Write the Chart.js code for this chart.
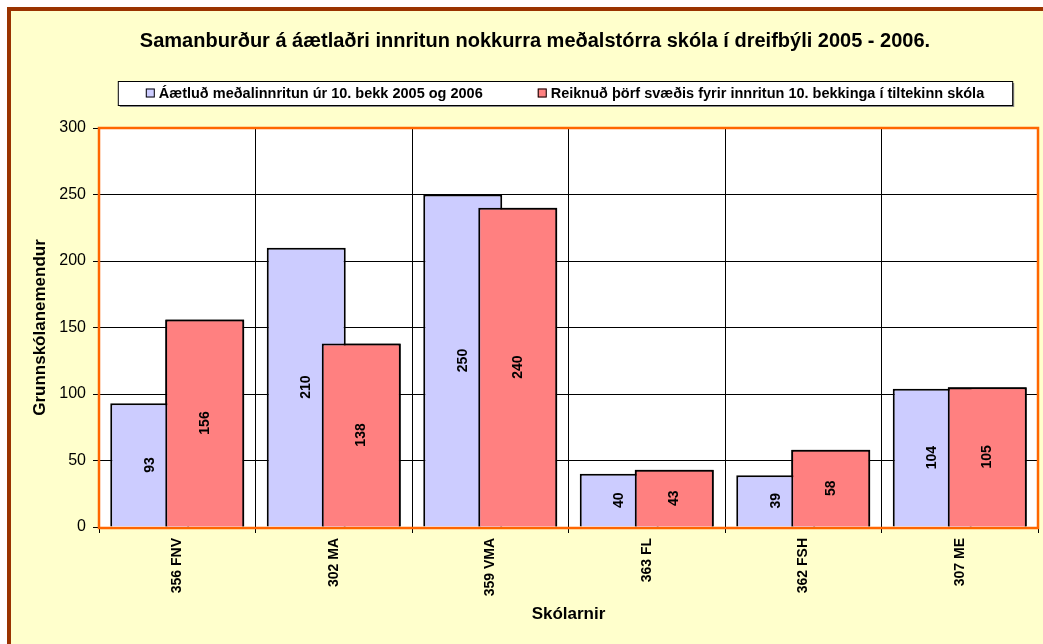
<!DOCTYPE html>
<html>
<head>
<meta charset="utf-8">
<script src="https://cdn.jsdelivr.net/npm/chart.js@4/dist/chart.umd.min.js"></script>
<style>
  html, body { margin: 0; padding: 0; background: #ffffff; overflow: hidden; }
  #frame { position: absolute; left: 7px; top: 7px; width: 1100px; height: 700px;
           background: #FFFFCC; border-left: 4px solid #993300; border-top: 4px solid #993300; }
  #wrap { position: absolute; left: 0; top: 0; width: 1043px; height: 644px; }
</style>
</head>
<body>
<div id="frame"></div>
<div id="wrap"><canvas id="c" width="1043" height="644"></canvas></div>
<script>
// ---- data ----
const chartTitle = "Samanburður á áætlaðri innritun nokkurra meðalstórra skóla í dreifbýli 2005 - 2006.";
const categories = ["356 FNV", "302 MA", "359 VMA", "363 FL", "362 FSH", "307 ME"];
const seriesNames = ["Áætluð meðalinnritun úr 10. bekk 2005 og 2006",
                     "Reiknuð þörf svæðis fyrir innritun 10. bekkinga í tiltekinn skóla"];
const estimatedIntake = [93, 210, 250, 40, 39, 104];
const calculatedNeed = [156, 138, 240, 43, 58, 105];
const yTitle = "Grunnskólanemendur";
const xTitle = "Skólarnir";
const yTicks = [0, 50, 100, 150, 200, 250, 300];

const FONT = '"Liberation Sans", Arial, sans-serif';

const framePlugin = {
  id: 'framePlugin',
  beforeDraw(chart) {
    const {ctx, chartArea: a} = chart;
    ctx.save();
    ctx.fillStyle = '#ffffff';
    ctx.fillRect(a.left, a.top, a.right - a.left, a.bottom - a.top);
    ctx.restore();
  },
  beforeDatasetsDraw(chart) {
    const {ctx, chartArea: a} = chart;
    ctx.save();
    ctx.strokeStyle = '#FF6600';
    ctx.lineWidth = 2.5;
    ctx.strokeRect(a.left, a.top, a.right - a.left, a.bottom - a.top + 1);
    ctx.restore();
  },
  afterDatasetsDraw(chart) {
    const ctx = chart.ctx;
    // red series drawn over the blue one (Excel overlap)
    chart.getDatasetMeta(1).controller.draw();
    // value labels
    ctx.save();
    ctx.font = 'bold 14px ' + FONT;
    ctx.fillStyle = '#000';
    ctx.textAlign = 'center';
    ctx.textBaseline = 'middle';
    chart.data.datasets.forEach((ds, di) => {
      const meta = chart.getDatasetMeta(di);
      meta.data.forEach((bar, i) => {
        const p = bar.getProps(['x', 'y', 'base'], true);
        ctx.save();
        ctx.translate(p.x, (p.y + p.base) / 2);
        ctx.rotate(-Math.PI / 2);
        ctx.fillText(String(ds.data[i]), 0, 0);
        ctx.restore();
      });
    });
    ctx.restore();
  },
  afterDraw(chart) {
    const ctx = chart.ctx;
    const o = chart.options.plugins.framePlugin;
    ctx.save();
    // title
    ctx.font = 'bold 20px ' + FONT;
    ctx.fillStyle = '#000';
    ctx.textAlign = 'center';
    ctx.textBaseline = 'middle';
    ctx.fillText(chartTitle, o.titleX, o.titleY);
    // legend
    ctx.font = 'bold 14.5px ' + FONT;
    const sq = 9, gap = 4, between = 55, padX = 28;
    const widths = chart.data.datasets.map(d => sq + gap + ctx.measureText(d.label).width);
    const total = widths.reduce((s, w) => s + w, 0) + between * (widths.length - 1);
    let x = o.legendCenterX - total / 2;
    const bx = x - padX, bw = total + 2 * padX;
    const by = o.legendTop, bh = o.legendHeight;
    ctx.fillStyle = '#888';
    ctx.fillRect(bx + 2, by + 2, bw, bh);
    ctx.fillStyle = '#fff';
    ctx.fillRect(bx, by, bw, bh);
    ctx.strokeStyle = '#000';
    ctx.lineWidth = 1;
    ctx.strokeRect(bx + 0.5, by + 0.5, bw, bh);
    const cy = by + bh / 2;
    chart.data.datasets.forEach((d, i) => {
      ctx.fillStyle = d.backgroundColor;
      ctx.fillRect(x, cy - sq / 2, sq, sq);
      ctx.strokeStyle = '#000';
      ctx.strokeRect(x + 0.5, cy - sq / 2 + 0.5, sq - 1, sq - 1);
      ctx.fillStyle = '#000';
      ctx.textAlign = 'left';
      ctx.fillText(d.label, x + sq + gap, cy + 1);
      x += widths[i] + between;
    });
    ctx.restore();
  }
};

new Chart(document.getElementById('c'), {
  type: 'bar',
  data: {
    labels: categories,
    datasets: [
      { label: seriesNames[0], data: estimatedIntake, backgroundColor: '#CCCCFF',
        borderColor: '#000', borderWidth: 2 },
      { label: seriesNames[1], data: calculatedNeed, backgroundColor: '#FF8080',
        borderColor: '#000', borderWidth: 2 }
    ]
  },
  plugins: [framePlugin],
  options: {
    responsive: false,
    animation: false,
    devicePixelRatio: 1,
    categoryPercentage: 0.703,
    barPercentage: 1.436,
    layout: { padding: { top: 128, right: 5, left: 0, bottom: 0 } },
    plugins: {
      legend: { display: false },
      title: { display: false },
      tooltip: { enabled: false },
      framePlugin: { titleX: 535, titleY: 41, legendCenterX: 565, legendTop: 81, legendHeight: 24 }
    },
    scales: {
      x: {
        afterFit(s) { s.height = 117; },
        grid: { display: true, offset: true, color: '#000', lineWidth: 1, tickLength: 6, drawTicks: true },
        border: { display: false },
        ticks: { minRotation: 90, maxRotation: 90, padding: 5, color: '#000',
                 font: { family: FONT, size: 14, weight: 'bold' } },
        title: { display: true, text: xTitle, color: '#000',
                 font: { family: FONT, size: 17, weight: 'bold' }, padding: { top: 0, bottom: 19 } }
      },
      y: {
        min: 0, max: 300,
        afterFit(s) { s.width = 99; },
        afterBuildTicks(s) { s.ticks = yTicks.map(v => ({ value: v })); },
        grid: { color: '#000', lineWidth: 1, tickLength: 6 },
        border: { display: false },
        ticks: { padding: 7, color: '#000', font: { family: FONT, size: 16 } },
        title: { display: true, text: yTitle, color: '#000',
                 font: { family: FONT, size: 17, weight: 'bold' }, padding: { top: 30, bottom: 0 } }
      }
    }
  }
});
</script>
</body>
</html>
